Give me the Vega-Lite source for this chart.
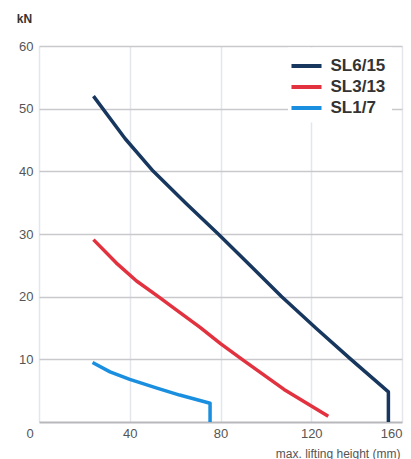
{
  "$schema": "https://vega.github.io/schema/vega-lite/v6.json",
  "autosize": "none",
  "padding": {"left": 39, "top": 46, "right": 9, "bottom": 37},
  "width": 363,
  "height": 376,
  "background": "white",
  "config": {
    "view": {"stroke": null},
    "font": "Liberation Sans"
  },
  "data": {
    "values": [
      {"s": "SL6/15", "i": 1, "h": 24, "kn": 52},
      {"s": "SL6/15", "i": 3, "h": 38, "kn": 45.2},
      {"s": "SL6/15", "i": 4, "h": 50.4, "kn": 40},
      {"s": "SL6/15", "i": 5, "h": 64.5, "kn": 35},
      {"s": "SL6/15", "i": 6, "h": 79, "kn": 30},
      {"s": "SL6/15", "i": 7, "h": 93, "kn": 25},
      {"s": "SL6/15", "i": 8, "h": 107, "kn": 20},
      {"s": "SL6/15", "i": 9, "h": 122, "kn": 15},
      {"s": "SL6/15", "i": 10, "h": 137.5, "kn": 10},
      {"s": "SL6/15", "i": 11, "h": 154, "kn": 4.8},
      {"s": "SL6/15", "i": 12, "h": 154, "kn": 0},
      {"s": "SL3/13", "i": 1, "h": 24, "kn": 29.1},
      {"s": "SL3/13", "i": 3, "h": 34, "kn": 25.4},
      {"s": "SL3/13", "i": 4, "h": 43, "kn": 22.5},
      {"s": "SL3/13", "i": 5, "h": 52.6, "kn": 20},
      {"s": "SL3/13", "i": 6, "h": 62, "kn": 17.5},
      {"s": "SL3/13", "i": 7, "h": 71, "kn": 15.1},
      {"s": "SL3/13", "i": 8, "h": 80, "kn": 12.5},
      {"s": "SL3/13", "i": 9, "h": 89.5, "kn": 10},
      {"s": "SL3/13", "i": 10, "h": 108, "kn": 5.2},
      {"s": "SL3/13", "i": 11, "h": 127.5, "kn": 0.9},
      {"s": "SL1/7", "i": 1, "h": 23.6, "kn": 9.5},
      {"s": "SL1/7", "i": 3, "h": 31.3, "kn": 8.0},
      {"s": "SL1/7", "i": 4, "h": 40, "kn": 6.8},
      {"s": "SL1/7", "i": 5, "h": 52, "kn": 5.4},
      {"s": "SL1/7", "i": 6, "h": 62, "kn": 4.3},
      {"s": "SL1/7", "i": 7, "h": 75.4, "kn": 3.0},
      {"s": "SL1/7", "i": 8, "h": 75.4, "kn": 0}
    ]
  },
  "mark": {"type": "line", "strokeWidth": 3.5, "strokeJoin": "round", "strokeCap": "butt", "clip": false},
  "encoding": {
    "x": {
      "field": "h",
      "type": "quantitative",
      "scale": {"domain": [0, 160], "nice": false, "zero": false},
      "axis": {
        "values": [0, 40, 80, 120, 160],
        "title": "max. lifting height (mm)",
        "titleX": 361,
        "titleY": 31,
        "titleAlign": "right",
        "titleBaseline": "middle",
        "titleFontSize": 12,
        "titleFontWeight": "normal",
        "titleColor": "#555555",
        "domain": false,
        "ticks": false,
        "labelPadding": 5,
        "labelFontSize": 13,
        "labelColor": "#555555",
        "labelOffset": {"condition": {"test": "datum.value == 0", "value": -13}, "value": 0},
        "gridColor": "#e4e6ec",
        "gridWidth": 1.5
      }
    },
    "y": {
      "field": "kn",
      "type": "quantitative",
      "scale": {"domain": [0, 60], "nice": false},
      "axis": {
        "values": [0, 10, 20, 30, 40, 50, 60],
        "labelExpr": "datum.value == 0 ? '' : datum.label",
        "title": "kN",
        "titleAngle": 0,
        "titleX": -15,
        "titleY": -28,
        "titleAlign": "center",
        "titleBaseline": "middle",
        "titleFontSize": 12,
        "titleFontWeight": "bold",
        "titleColor": "#333333",
        "domain": false,
        "ticks": false,
        "labelPadding": 6,
        "labelFontSize": 13,
        "labelColor": "#555555",
        "gridColor": {"condition": {"test": "datum.value == 0", "value": "#b8b8bc"}, "value": "#c9c9cd"},
        "gridWidth": {"condition": {"test": "datum.value == 0", "value": 2}, "value": 1.5}
      }
    },
    "color": {
      "field": "s",
      "type": "nominal",
      "scale": {"domain": ["SL6/15", "SL3/13", "SL1/7"], "range": ["#17375e", "#e2323f", "#1b8fdf"]},
      "legend": {
        "orient": "none",
        "legendX": 249,
        "legendY": 1.5,
        "padding": 6,
        "fillColor": "white",
        "title": null,
        "symbolType": "M-1.43,0H1.43",
        "symbolStrokeWidth": 4,
        "symbolSize": 441,
        "labelFontSize": 17,
        "labelFontWeight": "bold",
        "labelColor": "#333333",
        "labelOffset": 11.5,
        "rowPadding": 0
      }
    },
    "order": {"field": "i", "type": "quantitative"}
  }
}
